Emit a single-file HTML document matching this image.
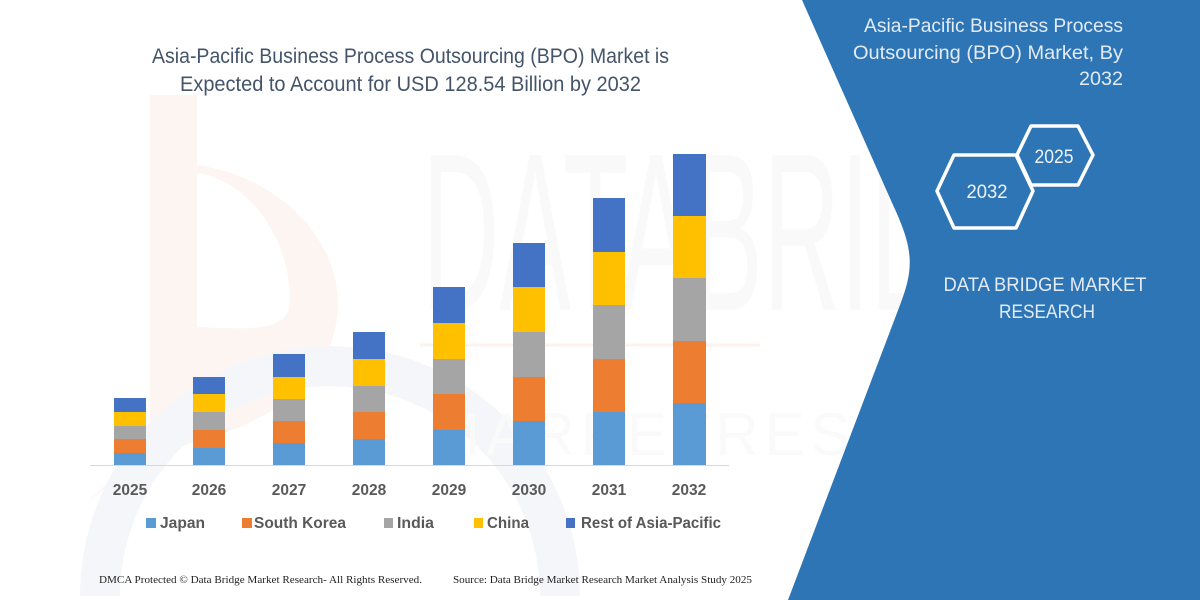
<!DOCTYPE html>
<html>
<head>
<meta charset="utf-8">
<style>
html,body{margin:0;padding:0;background:#fff;width:1200px;height:600px;overflow:hidden;}
svg{display:block;overflow:hidden;}
</style>
</head>
<body>
<svg width="1200" height="600" viewBox="0 0 1200 600" xmlns="http://www.w3.org/2000/svg">
  <rect x="0" y="0" width="1200" height="600" fill="#ffffff"/>

  <!-- faint watermark: orange logo -->
  <path d="M150,95 L197,95 L197,165 C270,175 335,230 338,300 C340,370 280,420 200,440 C150,455 110,480 80,510 L150,440 Z" fill="#fdf5f1"/>
  <path d="M197,173 C250,180 290,240 290,300 C290,330 260,330 197,327 Z" fill="#ffffff"/>
  <!-- faint gray ring (arc only, within frame) -->
  <path d="M100,596 A230,230 0 0 1 560,596" fill="none" stroke="#f5f6f9" stroke-width="40"/>
  <!-- faint DATA BRIDGE letters -->
  <text x="422" y="310" font-family="'Liberation Sans Narrow','Liberation Sans',sans-serif" font-size="225" fill="#f9f9f9" textLength="680" lengthAdjust="spacingAndGlyphs">DATABRIDGE</text>
  <line x1="420" y1="345" x2="760" y2="345" stroke="#fdf3ee" stroke-width="3"/>
  <text x="430" y="455" font-family="'Liberation Sans',sans-serif" font-size="60" fill="#fafafa" textLength="660" lengthAdjust="spacing">MARKETRESEARCH</text>

  <!-- Title -->
  <g font-family="'Liberation Sans',sans-serif" fill="#44546a" font-size="21">
    <text x="152" y="63" textLength="517" lengthAdjust="spacingAndGlyphs">Asia-Pacific Business Process Outsourcing (BPO) Market is</text>
    <text x="180" y="91" textLength="461" lengthAdjust="spacingAndGlyphs">Expected to Account for USD 128.54 Billion by 2032</text>
  </g>

  <!-- Axis line -->
  <line x1="90" y1="465.5" x2="729" y2="465.5" stroke="#d9d9d9" stroke-width="1"/>

  <!-- Bars -->
  <g>
    <rect x="114" y="453" width="32" height="12" fill="#5b9bd5"/>
    <rect x="114" y="439" width="32" height="14" fill="#ed7d31"/>
    <rect x="114" y="426" width="32" height="13" fill="#a5a5a5"/>
    <rect x="114" y="412" width="32" height="14" fill="#ffc000"/>
    <rect x="114" y="398" width="32" height="14" fill="#4472c4"/>

    <rect x="193" y="448" width="32" height="17" fill="#5b9bd5"/>
    <rect x="193" y="430" width="32" height="18" fill="#ed7d31"/>
    <rect x="193" y="412" width="32" height="18" fill="#a5a5a5"/>
    <rect x="193" y="394" width="32" height="18" fill="#ffc000"/>
    <rect x="193" y="377" width="32" height="17" fill="#4472c4"/>

    <rect x="273" y="443" width="32" height="22" fill="#5b9bd5"/>
    <rect x="273" y="421" width="32" height="22" fill="#ed7d31"/>
    <rect x="273" y="399" width="32" height="22" fill="#a5a5a5"/>
    <rect x="273" y="377" width="32" height="22" fill="#ffc000"/>
    <rect x="273" y="354" width="32" height="23" fill="#4472c4"/>

    <rect x="353" y="439" width="32" height="26" fill="#5b9bd5"/>
    <rect x="353" y="412" width="32" height="27" fill="#ed7d31"/>
    <rect x="353" y="386" width="32" height="26" fill="#a5a5a5"/>
    <rect x="353" y="359" width="32" height="27" fill="#ffc000"/>
    <rect x="353" y="332" width="32" height="27" fill="#4472c4"/>

    <rect x="433" y="430" width="32" height="35" fill="#5b9bd5"/>
    <rect x="433" y="394" width="32" height="36" fill="#ed7d31"/>
    <rect x="433" y="359" width="32" height="35" fill="#a5a5a5"/>
    <rect x="433" y="323" width="32" height="36" fill="#ffc000"/>
    <rect x="433" y="287" width="32" height="36" fill="#4472c4"/>

    <rect x="513" y="421" width="32" height="44" fill="#5b9bd5"/>
    <rect x="513" y="377" width="32" height="44" fill="#ed7d31"/>
    <rect x="513" y="332" width="32" height="45" fill="#a5a5a5"/>
    <rect x="513" y="287" width="32" height="45" fill="#ffc000"/>
    <rect x="513" y="243" width="32" height="44" fill="#4472c4"/>

    <rect x="593" y="412" width="32" height="53" fill="#5b9bd5"/>
    <rect x="593" y="359" width="32" height="53" fill="#ed7d31"/>
    <rect x="593" y="305" width="32" height="54" fill="#a5a5a5"/>
    <rect x="593" y="252" width="32" height="53" fill="#ffc000"/>
    <rect x="593" y="198" width="32" height="54" fill="#4472c4"/>

    <rect x="673" y="403" width="33" height="62" fill="#5b9bd5"/>
    <rect x="673" y="341" width="33" height="62" fill="#ed7d31"/>
    <rect x="673" y="278" width="33" height="63" fill="#a5a5a5"/>
    <rect x="673" y="216" width="33" height="62" fill="#ffc000"/>
    <rect x="673" y="154" width="33" height="62" fill="#4472c4"/>
  </g>

  <!-- Year labels -->
  <g font-family="'Liberation Sans',sans-serif" font-weight="bold" font-size="15.5" fill="#595959" text-anchor="middle">
    <text x="130" y="495">2025</text>
    <text x="209" y="495">2026</text>
    <text x="289" y="495">2027</text>
    <text x="369" y="495">2028</text>
    <text x="449" y="495">2029</text>
    <text x="529" y="495">2030</text>
    <text x="609" y="495">2031</text>
    <text x="689" y="495">2032</text>
  </g>

  <!-- Legend -->
  <g font-family="'Liberation Sans',sans-serif" font-weight="bold" font-size="15.5" fill="#595959">
    <rect x="146" y="518" width="10" height="10" fill="#5b9bd5"/>
    <text x="160" y="528" textLength="45" lengthAdjust="spacingAndGlyphs">Japan</text>
    <rect x="242" y="518" width="10" height="10" fill="#ed7d31"/>
    <text x="254" y="528" textLength="92" lengthAdjust="spacingAndGlyphs">South Korea</text>
    <rect x="384" y="518" width="9" height="10" fill="#a5a5a5"/>
    <text x="397" y="528" textLength="37" lengthAdjust="spacingAndGlyphs">India</text>
    <rect x="474" y="518" width="9" height="10" fill="#ffc000"/>
    <text x="487" y="528" textLength="42" lengthAdjust="spacingAndGlyphs">China</text>
    <rect x="566" y="518" width="9" height="10" fill="#4472c4"/>
    <text x="581" y="528" textLength="140" lengthAdjust="spacingAndGlyphs">Rest of Asia-Pacific</text>
  </g>

  <!-- Footer -->
  <g font-family="'Liberation Serif',serif" font-size="11" fill="#222222">
    <text x="99" y="583" textLength="323" lengthAdjust="spacingAndGlyphs">DMCA Protected © Data Bridge Market Research-  All Rights Reserved.</text>
    <text x="453" y="583" textLength="299" lengthAdjust="spacingAndGlyphs">Source: Data Bridge Market Research  Market Analysis Study 2025</text>
  </g>

  <!-- Right blue panel -->
  <path d="M802,0 L1200,0 L1200,600 L788,600 L900,305 C914,268 914,250 893,205 Z" fill="#2e75b6"/>

  <!-- Right title -->
  <g font-family="'Liberation Sans',sans-serif" font-size="19.5" fill="#e3ebf5" text-anchor="end">
    <text x="1123" y="32" textLength="259" lengthAdjust="spacingAndGlyphs">Asia-Pacific Business Process</text>
    <text x="1123" y="59" textLength="270" lengthAdjust="spacingAndGlyphs">Outsourcing (BPO) Market, By</text>
    <text x="1123" y="85" textLength="44" lengthAdjust="spacingAndGlyphs">2032</text>
  </g>

  <!-- Hexagons -->
  <g fill="none" stroke="#ffffff" stroke-width="3.5" stroke-linejoin="round">
    <polygon points="1017,155 1031,126 1078,126 1093,155 1078,185 1031,185"/>
    <polygon points="937,191 954,155 1016,155 1033,191 1016,228 954,228"/>
  </g>
  <g font-family="'Liberation Sans',sans-serif" font-size="19" fill="#eef3f9" text-anchor="middle">
    <text x="1054" y="163" textLength="39" lengthAdjust="spacingAndGlyphs">2025</text>
    <text x="987" y="198" textLength="41" lengthAdjust="spacingAndGlyphs">2032</text>
  </g>

  <!-- Brand -->
  <g font-family="'Liberation Sans',sans-serif" font-size="19.5" fill="#e3ebf5" text-anchor="middle">
    <text x="1045" y="291" textLength="203" lengthAdjust="spacingAndGlyphs">DATA BRIDGE MARKET</text>
    <text x="1047" y="318" textLength="96" lengthAdjust="spacingAndGlyphs">RESEARCH</text>
  </g>
</svg>
</body>
</html>
